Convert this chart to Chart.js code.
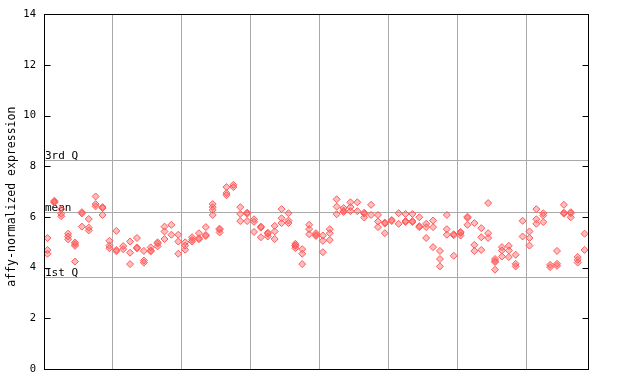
<!DOCTYPE html>
<html>
<head>
<meta charset="utf-8">
<script src="https://cdn.jsdelivr.net/npm/chart.js@4/dist/chart.umd.min.js"></script>
<style>
  html, body { margin: 0; padding: 0; background: #fff; }
  #wrap { width: 640px; height: 384px; position: relative; }
</style>
</head>
<body>
<div id="wrap"><canvas id="c" width="640" height="384"></canvas></div>
<script>
// Replicate values per sample, grouped by the vertical grid sections (10 samples each)
const group1 = [[5.17,4.70,4.55],[6.64,6.60,6.57],[6.31,6.13,6.03],[5.34,5.23,5.12],[4.99,4.93,4.86,4.24],
                [6.19,6.14,5.62],[5.92,5.58,5.47],[6.81,6.51,6.42],[6.39,6.35,6.08],[5.06,4.87,4.77]];
const group2 = [[5.45,4.70,4.65],[4.85,4.73],[5.03,4.59,4.14],[5.17,4.80,4.76],[4.66,4.28,4.20],
                [4.80,4.68,4.64],[5.00,4.95,4.84],[5.62,5.43,5.13],[5.69,5.30],[5.30,5.03,4.55]];
const group3 = [[5.00,4.87,4.71],[5.20,5.10,5.03],[5.36,5.16,5.12],[5.60,5.29,5.25],[6.51,6.39,6.28,6.08],
                [5.54,5.50,5.39],[7.18,6.94,6.86],[7.27,7.18],[6.39,6.12,5.84],[6.17,6.13,5.84]];
const group4 = [[5.91,5.81,5.41],[5.62,5.58,5.20],[5.38,5.34,5.23],[5.65,5.43,5.13],[6.31,5.95,5.76],
                [6.15,5.86,5.76],[4.94,4.88,4.86,4.77],[4.73,4.55,4.14],[5.69,5.52,5.32],[5.36,5.29,5.25]];
const group5 = [[5.27,5.06,4.61],[5.52,5.36,5.09],[6.70,6.41,6.11],[6.35,6.25,6.20],[6.58,6.39,6.23],
                [6.58,6.23],[6.17,6.13,5.98],[6.48,6.08],[6.08,5.82,5.60],[5.78,5.74,5.36]];
const group6 = [[5.88,5.84],[6.15,5.73],[6.12,5.84,5.80],[6.12,5.84,5.80],[5.99,5.64,5.60],
                [5.73,5.60,5.17],[5.86,5.60,4.81],[4.66,4.34,4.05],[6.08,5.52,5.30],[5.32,5.28,4.47]];
const group7 = [[5.41,5.37,5.27],[6.01,5.97,5.69],[5.76,4.90,4.66],[5.56,5.20,4.70],[6.55,5.36,5.17],
                [4.34,4.26,4.22,3.92],[4.81,4.68,4.44],[4.86,4.68,4.42],[4.51,4.15,4.05],[5.85,5.23]];
const group8 = [[5.43,5.17,4.87],[6.31,5.91,5.73],[6.15,6.06,5.80],[4.11,4.02],[4.66,4.15,4.07],
                [6.48,6.17,6.13],[6.19,6.15,5.99],[4.42,4.31,4.20],[5.34,4.70]];

const quartileLabels = ['3rd Q', 'mean', '1st Q'];
const quartileValues = [8.25, 6.21, 3.63];
const yTicks = [0, 2, 4, 6, 8, 10, 12, 14];
const yTitle = 'affy-normalized expression';

const samples = [].concat(group1, group2, group3, group4, group5, group6, group7, group8);
const points = [];
samples.forEach((reps, i) => reps.forEach(v => points.push({ x: i + 0.5, y: v })));
const nSamples = samples.length;

const MONO = '"DejaVu Sans Mono", "Liberation Mono", monospace';

const decor = {
  id: 'decor',
  beforeDatasetsDraw(chart) {
    const { ctx, chartArea: a, scales: { y } } = chart;
    ctx.save();
    ctx.strokeStyle = '#a9a9a9';
    ctx.lineWidth = 1;
    ctx.fillStyle = '#000';
    ctx.font = '11px ' + MONO;
    ctx.textBaseline = 'alphabetic';
    ctx.textAlign = 'left';
    quartileValues.forEach((v, k) => {
      const py = Math.round(y.getPixelForValue(v)) + 0.5;
      ctx.beginPath();
      ctx.moveTo(a.left, py);
      ctx.lineTo(a.right, py);
      ctx.stroke();
      ctx.fillText(quartileLabels[k], a.left + 1, py - 1.5);
    });
    ctx.restore();
  },
  afterDraw(chart) {
    const { ctx, chartArea: a, scales: { y } } = chart;
    ctx.save();
    ctx.strokeStyle = '#000';
    ctx.lineWidth = 1;
    const L = Math.round(a.left) + 0.5, R = Math.round(a.right) + 0.5;
    const T = Math.round(a.top) + 0.5, B = Math.round(a.bottom) + 0.5;
    ctx.strokeRect(L, T, R - L, B - T);
    yTicks.forEach(v => {
      const py = Math.round(y.getPixelForValue(v)) + 0.5;
      ctx.beginPath();
      ctx.moveTo(L, py); ctx.lineTo(L + 6, py);
      ctx.moveTo(R, py); ctx.lineTo(R - 6, py);
      ctx.stroke();
    });
    ctx.translate(12, (a.top + a.bottom) / 2 + 5);
    ctx.rotate(-Math.PI / 2);
    ctx.fillStyle = '#000';
    ctx.font = '11.5px ' + MONO;
    ctx.textAlign = 'center';
    ctx.textBaseline = 'middle';
    ctx.fillText(yTitle, 0, 0);
    ctx.restore();
  }
};

new Chart(document.getElementById('c'), {
  type: 'scatter',
  data: {
    datasets: [{
      data: points,
      pointStyle: 'rectRot',
      pointRadius: 3.5,
      pointHoverRadius: 3.5,
      borderWidth: 1,
      borderColor: '#ff5a5a',
      backgroundColor: 'rgba(255,90,90,0.40)'
    }]
  },
  options: {
    responsive: false,
    animation: false,
    devicePixelRatio: 1,
    layout: { padding: { left: 0, right: 52, top: 13, bottom: 15 } },
    plugins: { legend: { display: false }, tooltip: { enabled: false } },
    scales: {
      x: {
        type: 'linear',
        min: 0,
        max: nSamples,
        ticks: { display: false, stepSize: 10 },
        grid: { color: '#a9a9a9', lineWidth: 1, drawTicks: false },
        border: { display: false },
        afterFit(s) { s.height = 0; }
      },
      y: {
        min: 0,
        max: 14,
        afterBuildTicks(s) { s.ticks = yTicks.map(v => ({ value: v })); },
        ticks: { color: '#000', font: { family: MONO, size: 10.5 }, padding: 8 },
        grid: { display: false, drawTicks: false },
        border: { display: false },
        afterFit(s) { s.width = 44; }
      }
    }
  },
  plugins: [decor]
});
</script>
</body>
</html>
